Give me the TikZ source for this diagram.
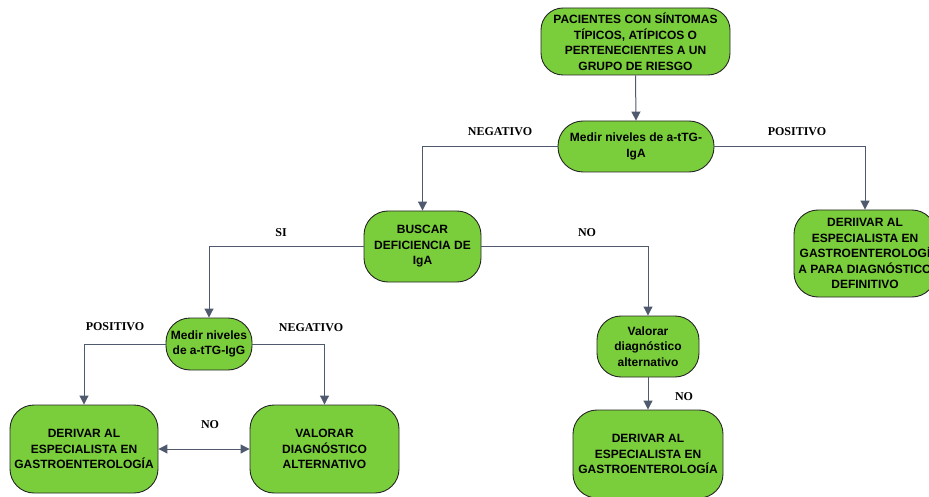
\documentclass[tikz,border=0pt]{standalone}
\usepackage{fontspec}
\setmainfont{Liberation Sans}
\newfontfamily\lblfont{Liberation Serif}
\usetikzlibrary{arrows.meta}
\definecolor{boxgreen}{RGB}{122,206,59}
\definecolor{linegrey}{RGB}{80,90,110}
\begin{document}
\begin{tikzpicture}[x=1pt,y=-1pt,
  box/.style={draw=black!85, line width=0.9pt, fill=boxgreen, rounded corners=#1, align=center,
    font=\fontsize{12}{15.5}\selectfont\bfseries, inner sep=2pt},
  box/.default=24pt,
  conn/.style={draw=linegrey, line width=1pt, -{Triangle[length=9pt,width=9pt]}},
  lbl/.style={font=\lblfont\fontsize{12}{13}\selectfont\bfseries, inner sep=0pt}]
\useasboundingbox (0,0) rectangle (929,497);
% nodes
\node[box=22pt, minimum width=189pt, minimum height=67pt] (top) at (635.5,41.5)
  {PACIENTES CON SÍNTOMAS\\TÍPICOS, ATÍPICOS O\\PERTENECIENTES A UN\\GRUPO DE RIESGO};
\node[box=25pt, minimum width=156pt, minimum height=51pt] (iga) at (636,146.5)
  {Medir niveles de a-tTG-\\IgA};
\node[box=24pt, minimum width=117pt, minimum height=71pt] (busc) at (422.5,246.5)
  {BUSCAR\\DEFICIENCIA DE\\IgA};
\node[box, minimum width=142pt, minimum height=87pt] (der1) at (865,253.5)
  {DERIIVAR AL\\ESPECIALISTA EN\\GASTROENTEROLOGÍ\\A PARA DIAGNÓSTICO\\DEFINITIVO};
\node[box=24pt, minimum width=86pt, minimum height=52pt] (igg) at (209,344)
  {Medir niveles\\de a-tTG-IgG};
\node[box=24pt, minimum width=102pt, minimum height=61pt] (val1) at (648,346.5)
  {Valorar\\diagnóstico\\alternativo};
\node[box, minimum width=148pt, minimum height=88pt] (der2) at (84,449)
  {DERIVAR AL\\ESPECIALISTA EN\\GASTROENTEROLOGÍA};
\node[box, minimum width=149pt, minimum height=88pt] (val2) at (324.5,449)
  {VALORAR\\DIAGNÓSTICO\\ALTERNATIVO};
\node[box, minimum width=150pt, minimum height=88pt] (der3) at (648,454)
  {DERIVAR AL\\ESPECIALISTA EN\\GASTROENTEROLOGÍA};
% connectors
\draw[conn] (top.south) -- (iga.north);
\draw[conn] (iga.west) -| (busc.north);
\draw[conn] (iga.east) -| (der1.north);
\draw[conn] (busc.west) -| (igg.north);
\draw[conn] (busc.east) -| (val1.north);
\draw[conn] (igg.west) -| (der2.north);
\draw[conn] (igg.east) -| (val2.north);
\draw[conn,{Triangle[length=9pt,width=9pt]}-{Triangle[length=9pt,width=9pt]}] (der2.east) -- (val2.west);
\draw[conn] (val1.south) -- (der3.north);
% labels
\node[lbl] (l1) at (500,132) {NEGATIVO};
\node[lbl] (l2) at (797,132) {POSITIVO};
\node[lbl] (l3) at (281,233) {SI};
\node[lbl] (l4) at (587,233) {NO};
\node[lbl] (l5) at (115,327) {POSITIVO};
\node[lbl] (l6) at (311,328) {NEGATIVO};
\node[lbl] (l7) at (210,425) {NO};
\node[lbl] (l8) at (684,397) {NO};
\end{tikzpicture}
\end{document}
